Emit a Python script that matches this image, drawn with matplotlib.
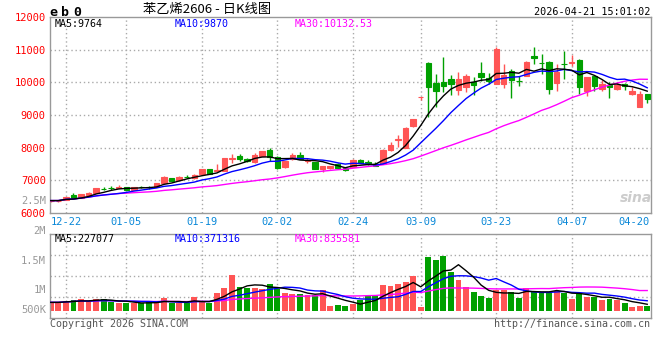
import numpy as np
import pandas as pd
import matplotlib.pyplot as plt
from matplotlib.transforms import blended_transform_factory

# trading days shown on the chart (Dec 18 2025 .. Apr 21 2026)
dates = ["12-18", "12-19", "12-22", "12-23", "12-24", "12-25", "12-26", "12-29", "12-30", "12-31",
         "01-05", "01-06", "01-07", "01-08", "01-09", "01-12", "01-13", "01-14", "01-15", "01-16",
         "01-19", "01-20", "01-21", "01-22", "01-23", "01-26", "01-27", "01-28", "01-29", "01-30",
         "02-02", "02-03", "02-04", "02-05", "02-06", "02-09", "02-10", "02-11", "02-12", "02-13",
         "02-24", "02-25", "02-26", "02-27", "03-02", "03-03", "03-04", "03-05", "03-06", "03-09",
         "03-10", "03-11", "03-12", "03-13", "03-16", "03-17", "03-18", "03-19", "03-20", "03-23",
         "03-24", "03-25", "03-26", "03-27", "03-30", "03-31", "04-01", "04-02", "04-03", "04-07",
         "04-08", "04-09", "04-10", "04-13", "04-14", "04-15", "04-16", "04-17", "04-20", "04-21"]

opens = [6360, 6360, 6400, 6550, 6470, 6560, 6620, 6750, 6770, 6780,
         6790, 6710, 6800, 6800, 6800, 6910, 7070, 7000, 7110, 7070,
         7190, 7350, 7300, 7290, 7660, 7750, 7660, 7570, 7750, 7920,
         7720, 7400, 7650, 7790, 7600, 7560, 7340, 7370, 7490, 7390,
         7420, 7630, 7550, 7510, 7510, 7920, 8220, 8000, 8650, 9540,
         10600, 9975, 10006, 10107, 9752, 9854, 10006, 10280, 10138, 9955,
         9940, 10362, 10040, 10200, 10800, 10600, 10636, 9975, 10570, 10600,
         10697, 9731, 10189, 9782, 9904, 9790, 9960, 9630, 9243, 9630]
highs = [6400, 6390, 6500, 6620, 6590, 6650, 6770, 6800, 6820, 6850,
         6800, 6800, 6840, 6840, 6920, 7130, 7080, 7120, 7150, 7200,
         7350, 7360, 7500, 7680, 7820, 7800, 7680, 7850, 7900, 8000,
         7750, 7600, 7840, 7860, 7690, 7570, 7450, 7450, 7520, 7400,
         7660, 7660, 7630, 7560, 7950, 8170, 8400, 8620, 8890, 9560,
         10610, 10260, 10770, 10210, 10310, 10260, 10150, 10616, 10280, 11093,
         10565, 10420, 10200, 10660, 11070, 10870, 10650, 10565, 10972, 10850,
         10700, 10160, 10190, 10060, 10016, 10000, 9980, 9850, 9730, 9630]
lows = [6340, 6340, 6390, 6450, 6460, 6550, 6610, 6690, 6710, 6770,
        6690, 6700, 6760, 6750, 6790, 6900, 6980, 6990, 7080, 7050,
        7180, 7190, 7290, 7280, 7520, 7600, 7560, 7540, 7740, 7600,
        7360, 7390, 7620, 7640, 7540, 7340, 7270, 7340, 7370, 7300,
        7410, 7520, 7470, 7430, 7500, 7900, 8010, 7990, 8640, 9460,
        8940, 9240, 9690, 9600, 9600, 9700, 9600, 10050, 9950, 9955,
        9834, 9520, 9900, 10180, 10560, 10260, 9650, 9721, 10108, 10500,
        9650, 9589, 9750, 9750, 9530, 9760, 9760, 9600, 9243, 9370]
closes = [6380, 6380, 6490, 6460, 6580, 6620, 6760, 6740, 6760, 6800,
          6710, 6790, 6790, 6790, 6910, 7110, 6990, 7100, 7100, 7170,
          7340, 7200, 7320, 7670, 7680, 7650, 7580, 7770, 7890, 7700,
          7380, 7590, 7790, 7650, 7630, 7350, 7440, 7440, 7390, 7310,
          7630, 7540, 7540, 7440, 7940, 8090, 8260, 8610, 8880, 9555,
          9850, 9750, 9884, 9935, 10107, 10190, 9925, 10158, 10056, 11023,
          10230, 10060, 10030, 10630, 10760, 10580, 9790, 10311, 10560, 10620,
          9854, 10159, 9874, 9935, 9860, 9910, 9900, 9730, 9630, 9480]
volumes = [370000, 370000, 430000, 470000, 520000, 370000, 520000, 520000, 400000, 330000,
           330000, 330000, 330000, 430000, 370000, 570000, 330000, 330000, 330000, 610000,
           430000, 330000, 790000, 1000000, 1550000, 1040000, 1000000, 1000000, 940000, 1160000,
           940000, 790000, 710000, 710000, 690000, 690000, 900000, 230000, 260000, 210000,
           300000, 470000, 640000, 640000, 1120000, 1070000, 1160000, 1260000, 1500000, 190000,
           2330000, 2200000, 2370000, 1690000, 1330000, 1040000, 830000, 660000, 570000, 900000,
           900000, 830000, 570000, 1000000, 870000, 830000, 830000, 860000, 790000, 520000,
           760000, 610000, 590000, 470000, 520000, 470000, 360000, 190000, 210000, 210000]

grid_dates = ["12-22", "01-05", "01-19", "02-02", "02-24", "03-09", "03-23", "04-07"]
last_label = "04-20"
price_ticks = [6000, 7000, 8000, 9000, 10000, 11000, 12000]
vol_labels = ["2.5M", "2M", "1.5M", "1M", "500K"]

RED = "#ff5555"
GREEN = "#00a000"
GRID = "#aaaaaa"
FRAME = "#999999"
MONO = "DejaVu Sans Mono"

df = pd.DataFrame({"open": opens, "high": highs, "low": lows, "close": closes, "vol": volumes})
df["x"] = np.arange(len(df))
up = df["close"] >= df["open"]
colors = np.where(up, RED, GREEN)
for n in (5, 10, 30):
    df["ma%d" % n] = df["close"].rolling(n, min_periods=1).mean()
    df["vma%d" % n] = df["vol"].rolling(n, min_periods=1).mean()

W, H = 660, 360
fig = plt.figure(figsize=(6.6, 3.6), dpi=100)
fig.patch.set_facecolor("white")

def px(x, y):
    return x / W, 1 - y / H

ax = fig.add_axes([50 / W, 1 - 213 / H, 601 / W, 196 / H])
axv = fig.add_axes([50 / W, 1 - 318 / H, 601 / W, 84 / H])

xlim = (-0.106, 79.5)
grid_idx = [dates.index(d) for d in grid_dates]

for a in (ax, axv):
    a.set_xlim(*xlim)
    a.set_xticks([])
    for s in a.spines.values():
        s.set_color(FRAME)
        s.set_linewidth(1)
    for gi in grid_idx:
        a.axvline(gi, color=GRID, lw=1, ls=(0, (1, 2)), zorder=0)

# price panel
ax.set_ylim(6000, 12000)
ax.set_yticks(price_ticks)
ax.set_yticklabels([str(t) for t in price_ticks], color="#ff0000", fontsize=7.5, family=MONO)
ax.tick_params(axis="y", length=0, pad=3)
for t in price_ticks[1:-1]:
    ax.axhline(t, color=GRID, lw=1, ls=(0, (1, 2)), zorder=0)

# date labels under the price panel
trans = blended_transform_factory(ax.transData, ax.transAxes)
for gi, d in zip(grid_idx, grid_dates):
    ax.text(gi, -0.045, d, transform=trans, ha="center", va="center", color="#0a88d8", fontsize=7.5, family=MONO)
ax.text(0.997, -0.045, last_label, transform=ax.transAxes, ha="right", va="center",
        color="#0a88d8", fontsize=7.5, family=MONO)

ax.vlines(df["x"], df["low"], df["high"], colors=colors, lw=1, zorder=2)
body_lo = np.minimum(df["open"], df["close"])
body_h = np.abs(df["close"] - df["open"])
ax.bar(df["x"], body_h, bottom=body_lo, width=0.72, color=colors, edgecolor=colors, lw=0.8, zorder=3)

ax.plot(df["x"], df["ma30"], color="#ff00ff", lw=1, zorder=4)
ax.plot(df["x"], df["ma10"], color="#0000ff", lw=1, zorder=4)
ax.plot(df["x"], df["ma5"], color="black", lw=1, zorder=4)

# volume panel
vlo, vhi = -300000, 3300000
axv.set_ylim(vlo, vhi)
axv.set_yticks([vlo + f * (vhi - vlo) for f in (0.25, 0.5, 0.75)])
axv.yaxis.grid(True, color=GRID, lw=1, ls=(0, (1, 2)))
axv.set_axisbelow(True)
axv.tick_params(length=0, labelleft=False, labelbottom=False)
axv.bar(df["x"], df["vol"], width=0.78, color=colors, zorder=2)
axv.plot(df["x"], df["vma30"], color="#ff00ff", lw=1, zorder=4)
axv.plot(df["x"], df["vma10"], color="#0000ff", lw=1, zorder=4)
axv.plot(df["x"], df["vma5"], color="black", lw=1, zorder=4)

for lab, yy in zip(vol_labels, [201, 231, 261, 290, 310]):
    fig.text(*px(46, yy), lab, ha="right", va="center", color="#999999", fontsize=7.5, family=MONO)

# header
for ch, xx in zip("eb0", [53, 65, 77]):
    fig.text(*px(xx, 12), ch, ha="center", va="center", fontsize=9.5, weight="bold", family=MONO)
fig.text(*px(207, 10), "苯乙烯2606 - 日K线图", ha="center", va="center", fontsize=9.5,
         family=["Noto Sans CJK SC", "DejaVu Sans"])
fig.text(*px(650, 12), "2026-04-21 15:01:02", ha="right", va="center", fontsize=7.3, family=MONO)

fig.text(*px(55, 24), "MA5:9764", ha="left", va="center", fontsize=7.2, family=MONO, color="black")
fig.text(*px(175, 24), "MA10:9870", ha="left", va="center", fontsize=7.2, family=MONO, color="#0000ff")
fig.text(*px(295, 24), "MA30:10132.53", ha="left", va="center", fontsize=7.2, family=MONO, color="#ff00ff")
fig.text(*px(55, 239), "MA5:227077", ha="left", va="center", fontsize=7.2, family=MONO, color="black")
fig.text(*px(175, 239), "MA10:371316", ha="left", va="center", fontsize=7.2, family=MONO, color="#0000ff")
fig.text(*px(295, 239), "MA30:835581", ha="left", va="center", fontsize=7.2, family=MONO, color="#ff00ff")

fig.text(*px(50, 324), "Copyright 2026 SINA.COM", ha="left", va="center", fontsize=7.2, family=MONO, color="#555555")
fig.text(*px(650, 324), "http://finance.sina.com.cn", ha="right", va="center", fontsize=7.2, family=MONO, color="#555555")
fig.text(*px(636, 198), "sina", ha="center", va="center", fontsize=10, weight="bold", style="italic", color="#cccccc")

fig.savefig("out.png", dpi=100)
